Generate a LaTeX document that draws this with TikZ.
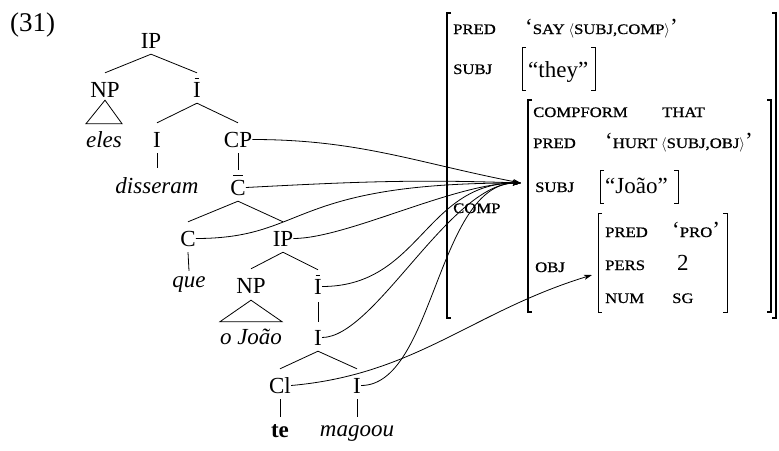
\documentclass[tikz,border=0pt]{standalone}
\usepackage{fontspec}
\setmainfont{Liberation Serif}
\newfontfamily\featfont[FakeStretch=1.15,FakeBold=0.8]{Liberation Serif}
\usetikzlibrary{arrows.meta}

% feature names and atomic values in small capitals
\newcommand\ft[1]{{\fontsize{14.5}{16}\featfont #1}}
% angle brackets around argument lists
\newcommand\lang{{\fontsize{15}{16}\selectfont$\langle$}}
\newcommand\rang{{\fontsize{15}{16}\selectfont$\rangle$}}
% bar-level category (I-bar, C-bar)
\newcommand\barred[1]{\setbox0\hbox{#1}\rlap{\hbox to\wd0{\hss\rule[\dimexpr\ht0+3.5pt\relax]{0.62\wd0}{0.9pt}\hss}}\box0}

\begin{document}
\begin{tikzpicture}[x=1pt,y=-1pt,
  every node/.style={inner sep=0pt, font=\fontsize{23}{27}\selectfont},
  tn/.style={anchor=base, text height=15pt, text depth=0pt},
  feat/.style={anchor=base west},
  branch/.style={line width=0.8pt},
  link/.style={line width=0.8pt, -{Stealth[length=8pt,width=5pt,inset=2pt]}}
]
\useasboundingbox (0,0) rectangle (779,450);

% attribute-value matrix brackets: [style] left x, right x, top y, bottom y
\newcommand\avmbr[5][]{%
  \draw[#1] (#2+4,#4) -| (#2,#5) -- ++(4,0);
  \draw[#1] (#3-4,#4) -| (#3,#5) -- ++(-4,0);}

\node[anchor=base west] (ex) at (10,31) {\fontsize{27}{30}\selectfont (31)};

% c-structure
\node[tn] (ip)   at (151,48)  {IP};
\node[tn] (np)   at (105,97)  {NP};
\node[tn] (ib)   at (197,97)  {\barred{I}};
\node[tn] (eles) at (104,147) {\itshape eles};
\node[tn] (i)    at (157,147) {I};
\node[tn] (cp)   at (238,147) {CP};
\node[tn] (diss) at (157,193) {\itshape disseram};
\node[tn] (cb)   at (238,195) {\barred{C}};
\node[tn] (c)    at (188,246) {C};
\node[tn] (ip2)  at (283,246) {IP};
\node[tn] (que)  at (189,287) {\itshape que};
\node[tn] (np2)  at (251,293) {NP};
\node[tn] (ib2)  at (318,294) {\barred{I}};
\node[tn] (joao) at (251,344) {\itshape o João};
\node[tn] (i3)   at (318,345) {I};
\node[tn] (cl)   at (280,393) {Cl};
\node[tn] (i4)   at (357,393) {I};
\node[tn] (te)   at (280,437) {\bfseries te};
\node[tn] (mag)  at (357,436) {\itshape magoou};

\begin{scope}[branch]
  \foreach \p/\d in {ip/np, ip/ib, ib/i, ib/cp, cb/c, cb/ip2, ip2/np2, ip2/ib2, i3/cl, i3/i4}
    \draw ([yshift=-6pt]\p.south) -- ([yshift=9pt]\d.north);
  \draw ([yshift=-6pt]i.south)   -- ([yshift=10pt]diss.north);
  \draw ([yshift=-6pt]cp.south)  -- ([yshift=10pt]cb.north);
  \draw ([yshift=-6pt]c.south)   -- ([yshift=1pt]que.north);
  \draw ([yshift=-8pt]ib2.south) -- ([yshift=8pt]i3.north);
  \draw ([yshift=-6pt]cl.south)  -- ([yshift=5pt]te.north);
  \draw ([yshift=-6pt]i4.south)  -- ([yshift=4pt]mag.north);
  \draw ([yshift=-3pt]np.south) -- ([yshift=8pt]eles.north east) -- ([yshift=8pt]eles.north west) -- cycle;
  \draw ([yshift=-7pt]np2.south) -- ([yshift=7pt]joao.north east) -- ([yshift=7pt]joao.north west) -- cycle;
\end{scope}

% f-structure
\avmbr[line width=1.4pt]{447}{776}{13}{318}
\avmbr[line width=1.1pt]{528}{771}{100}{312}
\avmbr[line width=0.8pt]{522}{595}{47}{90}
\avmbr[line width=0.8pt]{600}{678}{170}{203}
\avmbr[line width=1pt]{598}{727}{213}{312}

\node[feat] (f1a) at (453,34)  {\ft{PRED}};
\node[feat] (f1b) at (525,34)  {‘\ft{SAY}\,\lang\ft{SUBJ,COMP}\rang’};
\node[feat] (f2a) at (453,74)  {\ft{SUBJ}};
\node[feat] (f2b) at (528,77)  {“they”};
\node[feat] (f3a) at (453,213) {\ft{COMP}};

\node[feat] (g1a) at (533,117) {\ft{COMPFORM}};
\node[feat] (g1b) at (662,117) {\ft{THAT}};
\node[feat] (g2a) at (533,148) {\ft{PRED}};
\node[feat] (g2b) at (605,148) {‘\ft{HURT}\,\lang\ft{SUBJ,OBJ}\rang’};
\node[feat] (g3a) at (535,192) {\ft{SUBJ}};
\node[feat] (g3b) at (605,193) {“João”};
\node[feat] (g4a) at (535,272) {\ft{OBJ}};

\node[feat] (h1a) at (605,237) {\ft{PRED}};
\node[feat] (h1b) at (672,237) {‘\ft{PRO}’};
\node[feat] (h2a) at (605,270) {\ft{PERS}};
\node[feat] (h2b) at (677,270) {2};
\node[feat] (h3a) at (605,303) {\ft{NUM}};
\node[feat] (h3b) at (672,303) {\ft{SG}};

% projection arrows
\coordinate (comptip) at (521,183);
\coordinate (objtip)  at (592,275);
\draw[link] (cp.east)  to[out=0, in=169] (comptip);
\draw[link] (cb.east)  to[out=3, in=178] (comptip);
\draw[link] (c.east)   .. controls +(112,0) and +(-234,0) .. (comptip);
\draw[link] (ip2.east) .. controls +(53,0) and +(-66,0) .. (comptip);
\draw[link] (ib2.east) .. controls +(98,0) and +(-96,0) .. (comptip);
\draw[link] (i3.east)  .. controls +(53,0) and +(-71,0) .. (comptip);
\draw[link] (i4.east)  .. controls +(73,0) and +(-84,0) .. (comptip);
\draw[link] (cl.east)  to[out=5, in=197] (objtip);
\end{tikzpicture}
\end{document}
